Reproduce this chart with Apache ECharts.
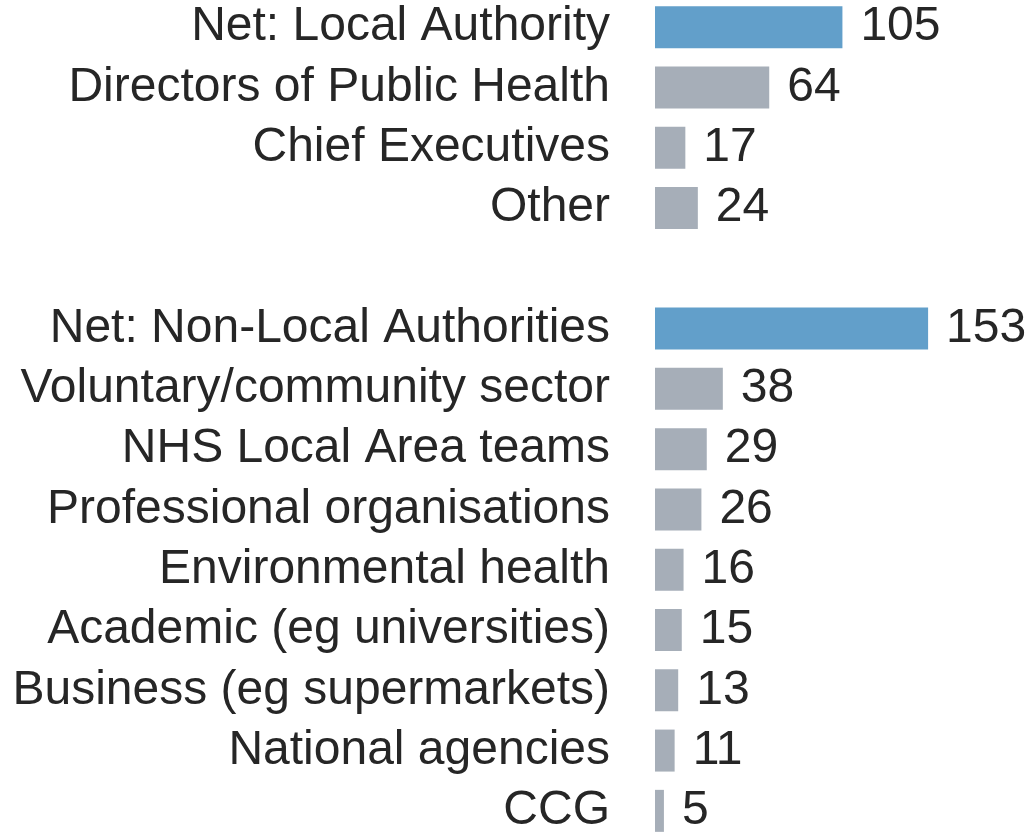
<!DOCTYPE html>
<html>
<head>
<meta charset="utf-8">
<style>
  html, body { margin: 0; padding: 0; background: #ffffff; }
  #chart { width: 1029px; height: 832px; }
</style>
<script src="https://cdn.jsdelivr.net/npm/echarts@6/dist/echarts.min.js"></script>
</head>
<body>
<div id="chart"></div>
<script>
// Respondent groups; the empty entry separates the two groups.
const categories = [
  'Net: Local Authority',
  'Directors of Public Health',
  'Chief Executives',
  'Other',
  '',
  'Net: Non-Local Authorities',
  'Voluntary/community sector',
  'NHS Local Area teams',
  'Professional organisations',
  'Environmental health',
  'Academic (eg universities)',
  'Business (eg supermarkets)',
  'National agencies',
  'CCG'
];
const counts = [105, 64, 17, 24, null, 153, 38, 29, 26, 16, 15, 13, 11, 5];
const netRows = ['Net: Local Authority', 'Net: Non-Local Authorities'];

const NET_COLOR = '#629fca';
const ITEM_COLOR = '#a6aeb8';
const TEXT_COLOR = '#262626';
const FONT = '"Liberation Sans", Arial, sans-serif';

const seriesData = categories.map((c, i) => ({
  value: counts[i] === null ? '-' : counts[i],
  itemStyle: { color: netRows.includes(c) ? NET_COLOR : ITEM_COLOR }
}));

const chart = echarts.init(document.getElementById('chart'), null, { renderer: 'canvas' });
chart.setOption({
  animation: false,
  grid: {
    left: 655, top: -3, width: 357, height: 844,
    containLabel: false, outerBoundsMode: 'none'
  },
  xAxis: {
    type: 'value', min: 0, max: 200, show: false
  },
  yAxis: {
    type: 'category',
    data: categories,
    inverse: true,
    axisLine: { show: false },
    axisTick: { show: false },
    splitLine: { show: false },
    axisLabel: {
      interval: 0,
      margin: 45,
      fontSize: 48,
      fontFamily: FONT,
      color: TEXT_COLOR
    }
  },
  series: [{
    type: 'bar',
    data: seriesData,
    barWidth: 42,
    label: {
      show: true,
      position: 'right',
      distance: 18,
      fontSize: 48,
      fontFamily: FONT,
      color: TEXT_COLOR
    }
  }]
});
</script>
</body>
</html>
